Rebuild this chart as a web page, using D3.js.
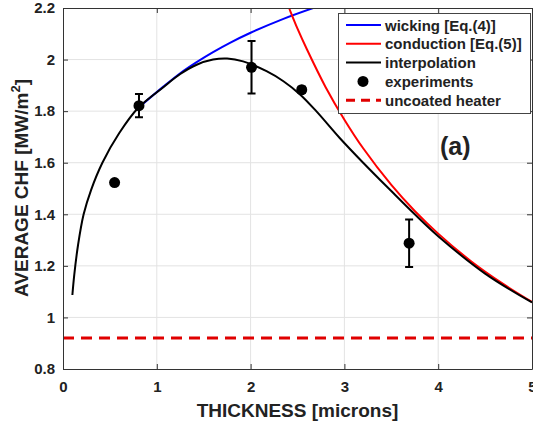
<!DOCTYPE html>
<html>
<head>
<meta charset="utf-8">
<script src="https://cdn.jsdelivr.net/npm/d3@7"></script>
<style>
  body { margin: 0; background: white; }
  svg { display: block; }
</style>
</head>
<body>
<div id="paper"></div>
<script>
// values
const xTicks = [0, 1, 2, 3, 4, 5];
const xTickLabels = ['0', '1', '2', '3', '4', '5'];
const yTicks = [0.8, 1.0, 1.2, 1.4, 1.6, 1.8, 2.0, 2.2];
const yTickLabels = ['0.8', '1', '1.2', '1.4', '1.6', '1.8', '2', '2.2'];

const wicking = [
  [0.8, 1.812], [1.07, 1.895], [1.25, 1.947], [1.425, 1.99], [1.6, 2.029],
  [1.78, 2.065], [2.0, 2.104], [2.35, 2.158], [2.7, 2.204], [2.8, 2.216]
];
const conduction = [
  [2.36, 2.246], [2.41, 2.2], [2.5, 2.12], [2.6, 2.04], [2.8, 1.893], [3.0, 1.767],
  [3.2, 1.656], [3.5, 1.514], [3.75, 1.413], [4.0, 1.325], [4.35, 1.218],
  [4.7, 1.128], [5.0, 1.06]
];
const interpolation = [
  [0.1, 1.087], [0.12, 1.165], [0.16, 1.28], [0.22, 1.4], [0.3, 1.495], [0.42, 1.6], [0.6, 1.715],
  [0.8, 1.812], [1.07, 1.893], [1.25, 1.944], [1.425, 1.98], [1.6, 2.0], [1.75, 2.004],
  [1.92, 1.993], [2.17, 1.955], [2.35, 1.916], [2.53, 1.864], [2.7, 1.8],
  [2.95, 1.696], [3.2, 1.6], [3.5, 1.49], [3.75, 1.4], [4.0, 1.315], [4.5, 1.17], [5.0, 1.058]
];
const expThickness = [0.55, 0.81, 2.01, 2.545, 3.69];
const expChf = [1.523, 1.821, 1.97, 1.883, 1.288];
const expErr = [0, 0.045, 0.102, 0.012, 0.092];
const uncoatedChf = 0.92;

const legendLabels = ['wicking [Eq.(4)]', 'conduction [Eq.(5)]', 'interpolation', 'experiments', 'uncoated heater'];
const legendColors = ['#0000ff', '#ff0000', '#000000', '#000000', '#e00000'];
const legendKinds = ['line', 'line', 'line', 'marker', 'dash'];

const W = 533, H = 426;
const mLeft = 63, mRight = 532, mTop = 8, mBottom = 369;
const font = "'Liberation Sans', Arial, sans-serif";

const x = d3.scaleLinear().domain([0, 5]).range([mLeft, mRight]);
const y = d3.scaleLinear().domain([0.8, 2.2]).range([mBottom, mTop]);

const svg = d3.select('#paper')
  .append('svg')
  .attr('width', W)
  .attr('height', H)
  .style('background-color', 'white');

svg.append('defs').append('clipPath')
  .attr('id', 'plotclip')
  .append('rect')
  .attr('x', mLeft).attr('y', mTop)
  .attr('width', mRight - mLeft).attr('height', mBottom - mTop);

// grid
svg.selectAll('.gridx')
  .data(xTicks.slice(1, -1))
  .join('line')
  .attr('class', 'gridx')
  .attr('x1', d => x(d)).attr('x2', d => x(d))
  .attr('y1', mTop).attr('y2', mBottom)
  .attr('stroke', '#e3e3e3').attr('stroke-width', 1);

svg.selectAll('.gridy')
  .data(yTicks.slice(1, -1))
  .join('line')
  .attr('class', 'gridy')
  .attr('x1', mLeft).attr('x2', mRight)
  .attr('y1', d => y(d)).attr('y2', d => y(d))
  .attr('stroke', '#e3e3e3').attr('stroke-width', 1);

const plot = svg.append('g').attr('clip-path', 'url(#plotclip)');

// uncoated heater
plot.append('line')
  .attr('x1', x(0)).attr('x2', x(5))
  .attr('y1', y(uncoatedChf)).attr('y2', y(uncoatedChf))
  .attr('stroke', '#e00000')
  .attr('stroke-width', 3)
  .attr('stroke-dasharray', '11,7');

const line = d3.line()
  .x(d => x(d[0]))
  .y(d => y(d[1]))
  .curve(d3.curveCatmullRom.alpha(0.5));

plot.append('path')
  .attr('d', line(wicking))
  .attr('fill', 'none').attr('stroke', '#0000ff').attr('stroke-width', 2);

plot.append('path')
  .attr('d', line(conduction))
  .attr('fill', 'none').attr('stroke', '#ff0000').attr('stroke-width', 2);

plot.append('path')
  .attr('d', line(interpolation))
  .attr('fill', 'none').attr('stroke', '#000000').attr('stroke-width', 2);

// experiments with error bars
const pts = expThickness.map((t, i) => ({ t: t, q: expChf[i], e: expErr[i] }));

plot.selectAll('.errbar')
  .data(pts.filter(d => d.e > 0))
  .join('path')
  .attr('class', 'errbar')
  .attr('d', d => {
    const cx = x(d.t), y1 = y(d.q + d.e), y2 = y(d.q - d.e);
    return 'M' + cx + ',' + y1 + 'V' + y2 +
      'M' + (cx - 4) + ',' + y1 + 'H' + (cx + 4) +
      'M' + (cx - 4) + ',' + y2 + 'H' + (cx + 4);
  })
  .attr('fill', 'none').attr('stroke', 'black').attr('stroke-width', 2);

plot.selectAll('.marker')
  .data(pts)
  .join('circle')
  .attr('class', 'marker')
  .attr('cx', d => x(d.t))
  .attr('cy', d => y(d.q))
  .attr('r', 5.5)
  .attr('fill', 'black');

// axes (box with inward ticks)
const axisColor = '#333333';

svg.append('g')
  .attr('transform', 'translate(0,' + mBottom + ')')
  .call(d3.axisBottom(x).tickValues(xTicks).tickFormat((d, i) => xTickLabels[i])
    .tickSizeInner(-5).tickSizeOuter(0).tickPadding(12));

svg.append('g')
  .attr('transform', 'translate(' + mLeft + ',0)')
  .call(d3.axisLeft(y).tickValues(yTicks).tickFormat((d, i) => yTickLabels[i])
    .tickSizeInner(-5).tickSizeOuter(0).tickPadding(8));

svg.append('g')
  .attr('transform', 'translate(0,' + mTop + ')')
  .call(d3.axisTop(x).tickValues(xTicks).tickFormat('').tickSizeInner(-5).tickSizeOuter(0));

svg.append('g')
  .attr('transform', 'translate(' + mRight + ',0)')
  .call(d3.axisRight(y).tickValues(yTicks).tickFormat('').tickSizeInner(-5).tickSizeOuter(0));

svg.selectAll('.domain, .tick line')
  .attr('stroke', axisColor)
  .attr('stroke-width', 1);

svg.selectAll('.tick text')
  .attr('font-family', font)
  .attr('font-size', '15px')
  .attr('font-weight', 'bold')
  .attr('fill', '#222');

// legend
const lg = svg.append('g');
lg.append('rect')
  .attr('x', 338.5).attr('y', 13.5)
  .attr('width', 192).attr('height', 100)
  .attr('fill', 'white')
  .attr('stroke', '#444')
  .attr('stroke-width', 1);

const rowY = i => 25 + i * 18.8;

lg.selectAll('.lgline')
  .data(legendKinds.map((k, i) => ({ k: k, i: i })).filter(d => d.k !== 'marker'))
  .join('line')
  .attr('class', 'lgline')
  .attr('x1', 346).attr('x2', 381)
  .attr('y1', d => rowY(d.i)).attr('y2', d => rowY(d.i))
  .attr('stroke', d => legendColors[d.i])
  .attr('stroke-width', d => d.k === 'dash' ? 3 : 2)
  .attr('stroke-dasharray', d => d.k === 'dash' ? '9,6' : null);

lg.selectAll('.lgmark')
  .data(legendKinds.map((k, i) => ({ k: k, i: i })).filter(d => d.k === 'marker'))
  .join('circle')
  .attr('class', 'lgmark')
  .attr('cx', 363).attr('cy', d => rowY(d.i))
  .attr('r', 5.5)
  .attr('fill', 'black');

lg.selectAll('.lgtext')
  .data(legendLabels)
  .join('text')
  .attr('class', 'lgtext')
  .attr('x', 385)
  .attr('y', (d, i) => rowY(i) + 5.5)
  .attr('font-family', font)
  .attr('font-size', '15px')
  .attr('font-weight', 'bold')
  .attr('fill', '#222')
  .text(d => d);

// panel tag
svg.append('text')
  .attr('x', 440).attr('y', 155)
  .attr('font-family', font)
  .attr('font-size', '25px')
  .attr('font-weight', 'bold')
  .attr('fill', '#222')
  .text('(a)');

// axis titles
svg.append('text')
  .attr('x', (mLeft + mRight) / 2).attr('y', 417)
  .attr('text-anchor', 'middle')
  .attr('font-family', font)
  .attr('font-size', '19px')
  .attr('font-weight', 'bold')
  .attr('fill', '#222')
  .text('THICKNESS [microns]');

const yTitle = svg.append('text')
  .attr('transform', 'translate(28,188) rotate(-90)')
  .attr('text-anchor', 'middle')
  .attr('font-family', font)
  .attr('font-size', '19px')
  .attr('font-weight', 'bold')
  .attr('fill', '#222');
yTitle.append('tspan').text('AVERAGE CHF [MW/m');
yTitle.append('tspan').attr('font-size', '13px').attr('dy', -8).text('2');
yTitle.append('tspan').attr('dy', 8).text(']');
</script>
</body>
</html>
